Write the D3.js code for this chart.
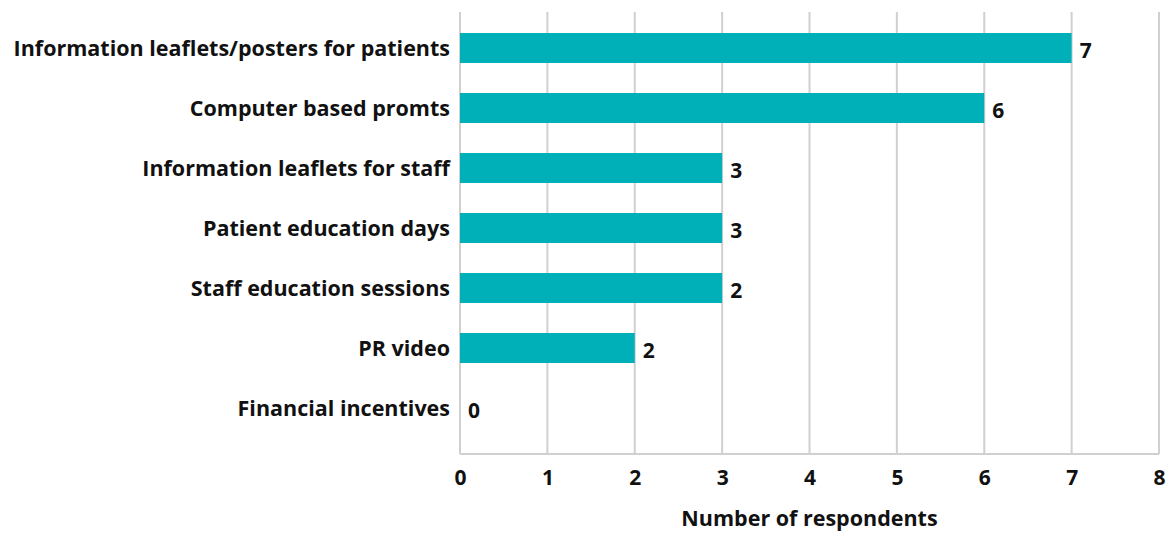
<!DOCTYPE html>
<html>
<head>
<meta charset="utf-8">
<script src="https://cdn.jsdelivr.net/npm/d3@7"></script>
<style>
  body { margin: 0; background: #fff; }
  text { font-family: "Open Sans", Lato, sans-serif; font-weight: 700; fill: #111; }
</style>
</head>
<body>
<svg id="chart" width="1167" height="533"></svg>
<script>
// chart data
const categories = [
  'Information leaflets/posters for patients',
  'Computer based promts',
  'Information leaflets for staff',
  'Patient education days',
  'Staff education sessions',
  'PR video',
  'Financial incentives'
];
const values = [7, 6, 3, 3, 3, 2, 0];
// labels as printed in the source (one differs from its bar)
const valueLabels = ['7', '6', '3', '3', '2', '2', '0'];
const xTicks = [0, 1, 2, 3, 4, 5, 6, 7, 8];
const axisTitle = 'Number of respondents';

const margin = { top: 12, left: 460, right: 8, bottom: 79 };
const width = 1167 - margin.left - margin.right;
const height = 533 - margin.top - margin.bottom;

const svg = d3.select('#chart');
const g = svg.append('g').attr('transform', 'translate(' + margin.left + ',' + margin.top + ')');

const x = d3.scaleLinear().domain([0, 8]).range([0, width]);
const y = d3.scaleBand().domain(categories).range([6, height - 16]).paddingInner(0.5).paddingOuter(0.25);

// grid lines
g.selectAll('.grid')
  .data(xTicks)
  .enter().append('line')
  .attr('x1', d => x(d)).attr('x2', d => x(d))
  .attr('y1', 0).attr('y2', height)
  .attr('stroke', '#d0d0d0').attr('stroke-width', 2);

g.append('line')
  .attr('x1', 0).attr('x2', width)
  .attr('y1', height).attr('y2', height)
  .attr('stroke', '#d0d0d0').attr('stroke-width', 2);

// bars
g.selectAll('.bar')
  .data(categories)
  .enter().append('rect')
  .attr('x', x(0))
  .attr('y', d => y(d))
  .attr('width', (d, i) => x(values[i]) - x(0))
  .attr('height', y.bandwidth())
  .attr('fill', '#00B0B9');

// value labels
g.selectAll('.val')
  .data(categories)
  .enter().append('text')
  .attr('x', (d, i) => x(values[i]) + 8)
  .attr('y', d => y(d) + y.bandwidth() / 2 + 3)
  .attr('dy', '0.35em')
  .style('font-size', '21px')
  .text((d, i) => valueLabels[i]);

// category labels
g.selectAll('.cat')
  .data(categories)
  .enter().append('text')
  .attr('x', -10)
  .attr('y', d => y(d) + y.bandwidth() / 2)
  .attr('dy', '0.35em')
  .attr('text-anchor', 'end')
  .style('font-size', '21.5px')
  .text(d => d);

// x axis
const xAxis = g.append('g')
  .attr('transform', 'translate(0,' + height + ')')
  .call(d3.axisBottom(x).tickValues(xTicks).tickSize(0).tickPadding(16));
xAxis.select('.domain').remove();
xAxis.selectAll('text').style('font-size', '21px').attr('fill', '#111');

g.append('text')
  .attr('x', width / 2)
  .attr('y', height + 72)
  .attr('text-anchor', 'middle')
  .style('font-size', '21.5px')
  .text(axisTitle);
</script>
</body>
</html>
